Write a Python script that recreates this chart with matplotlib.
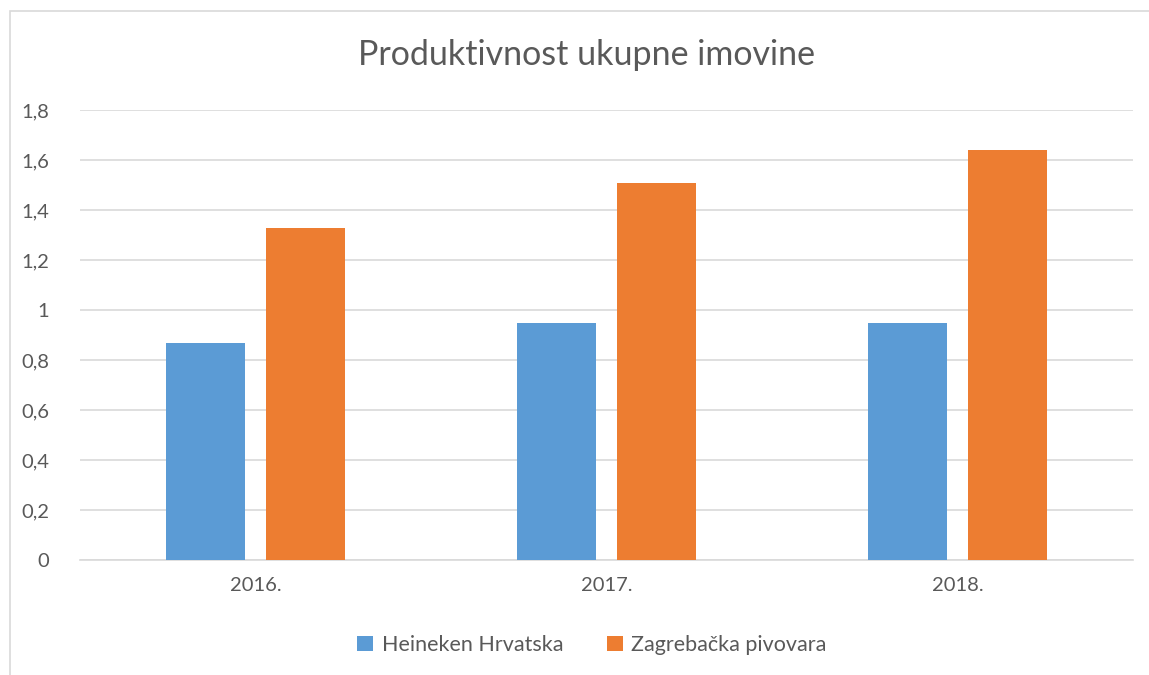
import numpy as np
import matplotlib.pyplot as plt
from matplotlib.patches import Rectangle

years = ["2016.", "2017.", "2018."]
heineken = [0.87, 0.95, 0.95]
zagrebacka = [1.33, 1.51, 1.64]
yticks = [0, 0.2, 0.4, 0.6, 0.8, 1.0, 1.2, 1.4, 1.6, 1.8]
ytick_labels = ["0", "0,2", "0,4", "0,6", "0,8", "1", "1,2", "1,4", "1,6", "1,8"]

plt.rcParams["font.family"] = ["Lato", "DejaVu Sans"]
text_col = "#595959"

W, H = 1149, 675
fig = plt.figure(figsize=(W / 100, H / 100), dpi=100)
ax = fig.add_axes([80 / W, 1 - 560 / H, (1133 - 80) / W, 450 / H])

# outer chart border (cropped at right/bottom)
fig.patches.append(Rectangle((10 / W, -0.1), 1.2, 1 - 11 / H + 0.1,
                             transform=fig.transFigure, fill=False,
                             edgecolor="#d9d9d9", linewidth=1.2))

x = np.arange(len(years))
w = 0.225
off = 0.1425
ax.bar(x - off, heineken, w, color="#5B9BD5", label="Heineken Hrvatska", zorder=3)
ax.bar(x + off, zagrebacka, w, color="#ED7D31", label="Zagrebačka pivovara", zorder=3)

ax.set_xlim(-0.5, 2.5)
ax.set_ylim(0, 1.8)
ax.set_yticks(yticks)
ax.set_yticklabels(ytick_labels)
ax.set_xticks(x)
ax.set_xticklabels(years)
ax.grid(axis="y", color="#d9d9d9", linewidth=1.2, zorder=0)
for s in ["top", "right", "left"]:
    ax.spines[s].set_visible(False)
ax.spines["bottom"].set_color("#d9d9d9")
ax.spines["bottom"].set_linewidth(1.2)
ax.tick_params(length=0, labelsize=14.5, colors=text_col)
ax.tick_params(axis="y", pad=22)
ax.tick_params(axis="x", pad=12)

fig.text(586 / W, 1 - 55 / H, "Produktivnost ukupne imovine", ha="center", va="center",
         fontsize=24.5, color=text_col)

fig.legend(loc="center", bbox_to_anchor=(592 / W, 1 - 645 / H), ncol=2, frameon=False,
           fontsize=15.5, labelcolor=text_col, handlelength=0.75, handleheight=0.75,
           handletextpad=0.4, columnspacing=2.0)

fig.savefig("out.png", dpi=100)
